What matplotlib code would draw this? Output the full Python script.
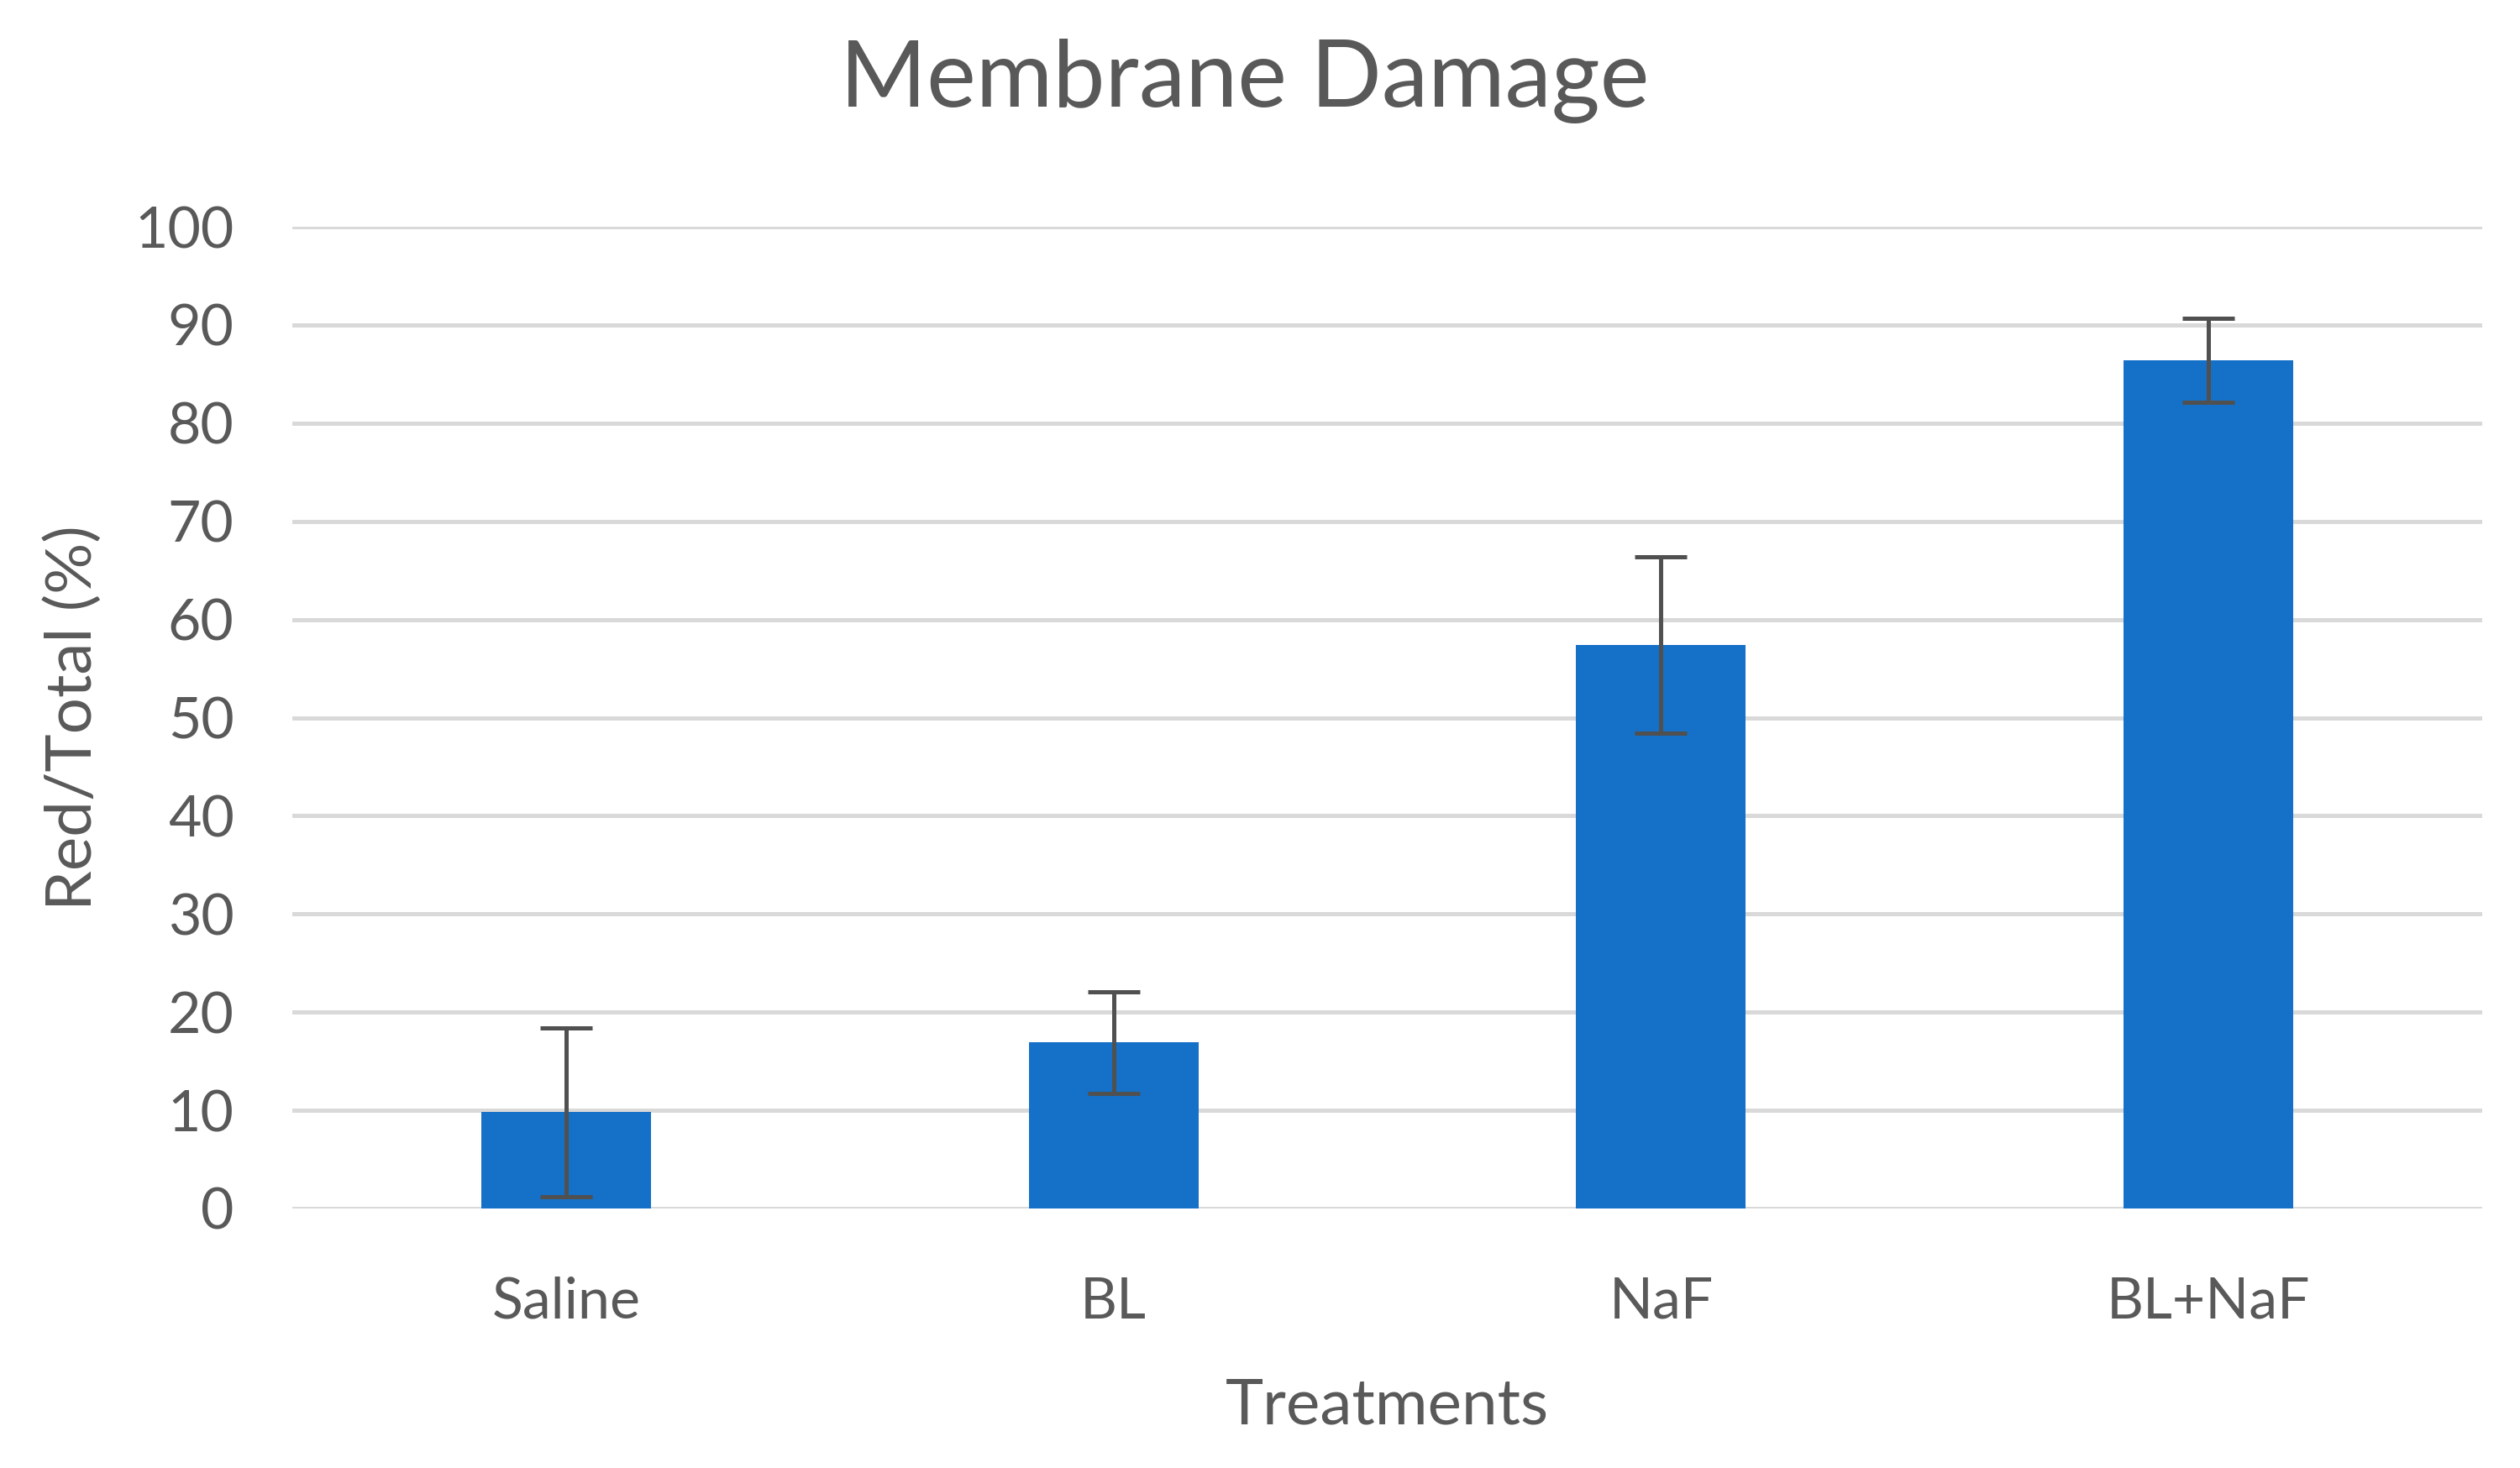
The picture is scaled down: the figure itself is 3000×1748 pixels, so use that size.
import matplotlib
matplotlib.use("Agg")
import matplotlib.pyplot as plt

treatments = ["Saline", "BL", "NaF", "BL+NaF"]
red_total = [9.8, 16.9, 57.4, 86.4]
red_total_err = [8.6, 5.2, 9.0, 4.3]
y_ticks = [0, 10, 20, 30, 40, 50, 60, 70, 80, 90, 100]

text_gray = "#595959"
bar_blue = "#1570C8"
grid_gray = "#D9D9D9"

plt.rcParams["font.family"] = ["Lato", "DejaVu Sans"]

fig = plt.figure(figsize=(30, 17.48), dpi=100)
ax = fig.add_axes([0.116, 0.1768, 0.869, 0.6687])

x = range(len(treatments))
ax.bar(x, red_total, width=0.31, color=bar_blue, zorder=2)
ax.errorbar(
    x, red_total, yerr=red_total_err, fmt="none",
    ecolor="#505050", elinewidth=3.6, capsize=22, capthick=3.6, zorder=3,
)

ax.set_xlim(-0.5, len(treatments) - 0.5)
ax.set_ylim(0, 100)
ax.set_yticks(y_ticks)
ax.set_xticks(list(x))
ax.set_xticklabels(treatments)
ax.yaxis.grid(True, color=grid_gray, linewidth=3.6, zorder=0)
ax.set_axisbelow(True)

for s in ax.spines.values():
    s.set_visible(False)

ax.tick_params(axis="both", length=0, labelsize=49, colors=text_gray)
ax.tick_params(axis="y", pad=50)
ax.tick_params(axis="x", pad=58)

ax.set_xlabel("Treatments", fontsize=55, color=text_gray, labelpad=42)
ax.set_ylabel("Red/Total (%)", fontsize=55, color=text_gray, labelpad=28)

fig.text(0.494, 0.945, "Membrane Damage", fontsize=80, color=text_gray,
         ha="center", va="center")

fig.savefig("out.png", dpi=100, facecolor="white")
